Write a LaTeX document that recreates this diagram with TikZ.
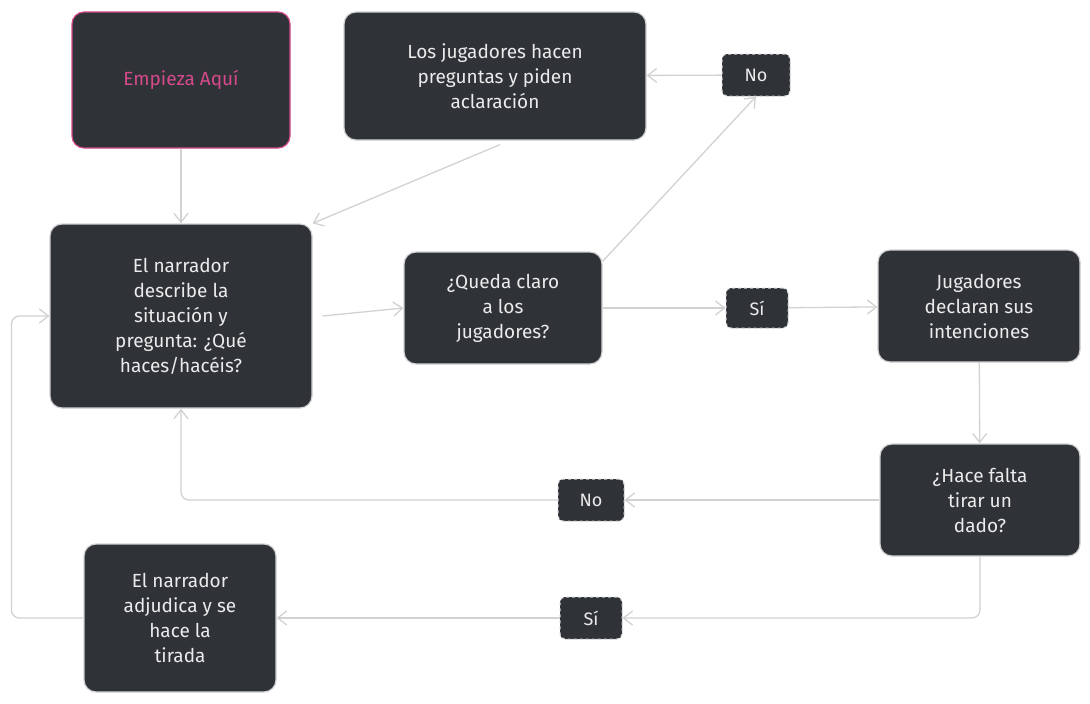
\documentclass[tikz,border=0pt]{standalone}
\usepackage{fontspec}
\setmainfont{Fira Sans}
\usetikzlibrary{arrows.meta}
\definecolor{boxfill}{HTML}{2F3338}
\definecolor{linegray}{HTML}{D2D2D2}
\definecolor{pinkish}{HTML}{D6498A}
\tikzset{
  box/.style={draw=linegray, fill=boxfill, rounded corners=12pt, line width=1.2pt,
    text=white!92!black, align=center, font=\fontsize{19}{25}\selectfont, inner sep=0pt},
  tag/.style={draw=linegray, dashed, fill=boxfill, rounded corners=5pt, line width=1pt,
    text=white!92!black, font=\fontsize{18}{22}\selectfont, inner sep=0pt},
  flow/.style={draw=linegray, line width=1.3pt, -{Straight Barb[length=9pt,width=14pt]}}
}
\begin{document}
\begin{tikzpicture}[x=1pt,y=-1pt]
    \useasboundingbox[fill=white] (0,0) rectangle (1090,704);

    % Nodes
    \node[box, draw=pinkish, text=pinkish, minimum width=218pt, minimum height=136pt] (start) at (181,80) {Empieza Aquí};
    \node[box, minimum width=302pt, minimum height=128pt] (ask) at (495,76) {Los jugadores hacen\\preguntas y piden\\aclaración};
    \node[tag, minimum width=68pt, minimum height=42pt] (no1) at (756,75) {No};
    \node[box, minimum width=262pt, minimum height=184pt] (narr) at (181,316) {El narrador\\describe la\\situación y\\pregunta: ¿Qué\\haces/hacéis?};
    \node[box, minimum width=198pt, minimum height=112pt] (clear) at (503,308) {¿Queda claro\\a los\\jugadores?};
    \node[tag, minimum width=62pt, minimum height=40pt] (si1) at (757,308) {Sí};
    \node[box, minimum width=202pt, minimum height=112pt] (intent) at (979,306) {Jugadores\\declaran sus\\intenciones};
    \node[box, minimum width=200pt, minimum height=112pt] (dice) at (980,500) {¿Hace falta\\tirar un\\dado?};
    \node[tag, minimum width=66pt, minimum height=42pt] (no2) at (591,500) {No};
    \node[box, minimum width=192pt, minimum height=148pt] (roll) at (180,618) {El narrador\\adjudica y se\\hace la\\tirada};
    \node[tag, minimum width=62pt, minimum height=42pt] (si2) at (591,618) {Sí};

    % Connectors
    \draw[flow] (start) -- (narr);
    \draw[flow] (ask.south) ++(5,4) -- (narr.north east);
    \draw[flow] (narr.east) ++(10,0) -- (clear.west);
    \draw[flow] (clear.north east) ++(0,10) -- (no1.south);
    \draw[flow] (no1) -- (ask);
    \draw[flow] (clear) -- (si1);
    \draw[flow] (si1) -- (intent);
    \draw[flow] (intent) -- (dice);
    \draw[flow] (dice) -- (no2);
    \draw[flow, rounded corners=8pt] (no2) -| (narr.south);
    \draw[flow, rounded corners=8pt] (dice.south) |- (si2);
    \draw[flow] (si2) -- (roll);
    \draw[flow, rounded corners=8pt] (roll.west) -- ++(-72,0) |- (narr.west);
\end{tikzpicture}
\end{document}
